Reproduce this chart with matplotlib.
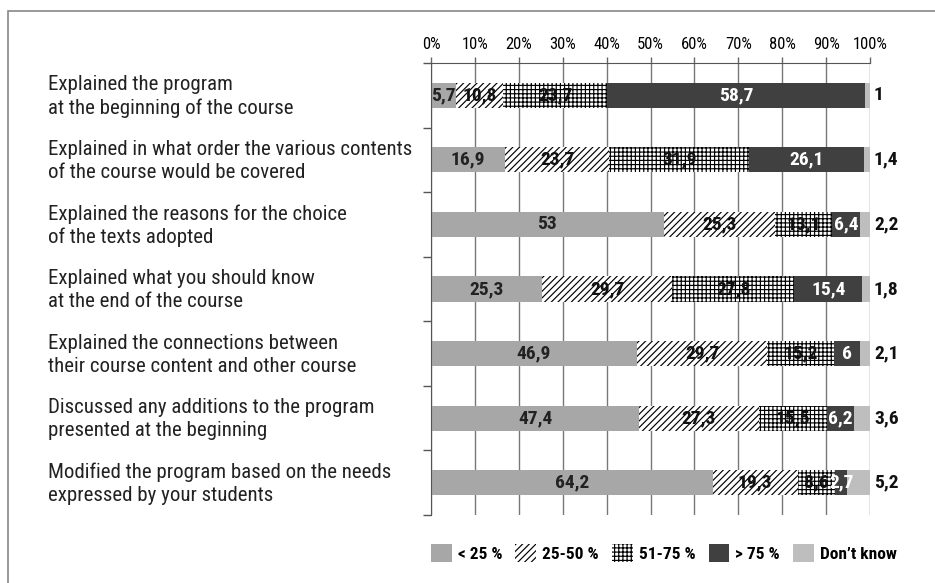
import numpy as np
import matplotlib.pyplot as plt
import matplotlib.patches as patches

plt.rcParams['font.family'] = ['Roboto Condensed', 'IBM Plex Sans Condensed',
                               'Liberation Sans', 'DejaVu Sans']
plt.rcParams['hatch.linewidth'] = 0.85

# ---------------------------------------------------------------------------
# Data
# ---------------------------------------------------------------------------
questions = [
    'Explained the program\nat the beginning of the course',
    'Explained in what order the various contents\nof the course would be covered',
    'Explained the reasons for the choice\nof the texts adopted',
    'Explained what you should know\nat the end of the course',
    'Explained the connections between\ntheir course content and other course',
    'Discussed any additions to the program\npresented at the beginning',
    'Modified the program based on the needs\nexpressed by your students',
]
series_names = ['< 25 %', '25-50 %', '51-75 %', '> 75 %', 'Don\u2019t know']
lt25 = [5.7, 16.9, 53, 25.3, 46.9, 47.4, 64.2]
p25_50 = [10.8, 23.7, 25.3, 29.7, 29.7, 27.3, 19.3]
p51_75 = [23.7, 31.9, 13.1, 27.8, 15.2, 15.5, 8.6]
gt75 = [58.7, 26.1, 6.4, 15.4, 6, 6.2, 2.7]
dont_know = [1, 1.4, 2.2, 1.8, 2.1, 3.6, 5.2]
x_ticks = [0, 10, 20, 30, 40, 50, 60, 70, 80, 90, 100]

# styles per series
face = ['#a7a7a7', 'white', 'white', '#404040', '#bebebe']
hatch = [None, '/////', '++++', None, None]
txt_col = ['#222222', '#111111', '#111111', 'white', None]


def fmt(v):
    return ('%g' % v).replace('.', ',')


fig = plt.figure(figsize=(9.35, 5.83), dpi=100)
W, H = 935, 583

# outer frame (only left and top edges visible in the crop)
fig.add_artist(patches.Rectangle((8 / W, -0.05), 1.2, 1 - 11 / H + 0.05,
                                 transform=fig.transFigure, fill=False,
                                 edgecolor='#888888', linewidth=1.2))

ax = fig.add_axes([431 / W, 1 - 515 / H, 439 / W, 452 / H])

data = [lt25, p25_50, p51_75, gt75, dont_know]
y = np.arange(len(questions))
left = np.zeros(len(questions))
for k, vals in enumerate(data):
    vals = np.array(vals, dtype=float)
    ax.barh(y, vals, left=left, height=0.39, color=face[k],
            hatch=hatch[k], edgecolor='black' if hatch[k] else face[k],
            linewidth=0, zorder=2)
    for i, v in enumerate(vals):
        if k < 4:
            ax.text(left[i] + v / 2, y[i], fmt(v), ha='center', va='center',
                    fontsize=14, fontweight='bold', color=txt_col[k], zorder=4)
        else:
            ax.text(100.9, y[i], fmt(v), ha='left', va='center',
                    fontsize=14, fontweight='bold', color='#111111', zorder=4)
    left += vals

ax.set_xlim(0, 100)
ax.set_ylim(len(questions) - 0.5, -0.5)

ax.set_xticks(x_ticks)
ax.set_xticklabels(['%d%%' % t for t in x_ticks], fontsize=12)
ax.xaxis.tick_top()
ax.tick_params(axis='x', length=4, width=1, color='#666666', pad=4)
ax.grid(axis='x', color='#777777', linewidth=1, zorder=0)
ax.set_axisbelow(True)

ax.set_yticks(np.arange(-0.5, len(questions), 1.0))
ax.set_yticklabels([])
ax.tick_params(axis='y', length=6, width=1, color='#555555')

for s in ['right', 'bottom']:
    ax.spines[s].set_visible(False)
ax.spines['top'].set_color('#555555')
ax.spines['left'].set_color('#555555')

for i, q in enumerate(questions):
    fig.text(48 / W, ax.transData.transform((0, y[i]))[1] / H - 0.002, q,
             ha='left', va='center', fontsize=15, color='#222222',
             linespacing=1.25)

# legend
handles = [patches.Patch(facecolor=face[k], hatch=hatch[k],
                         edgecolor='black' if hatch[k] else face[k],
                         linewidth=0) for k in range(5)]
fig.legend(handles, series_names, loc='center left',
           bbox_to_anchor=(431 / W, 1 - 553 / H), ncol=5, frameon=False,
           prop={'weight': 'bold', 'size': 12.5}, handlelength=1.2,
           handleheight=1.2, handletextpad=0.35, columnspacing=0.75,
           borderpad=0, borderaxespad=0)

fig.savefig('out.png', dpi=100)
